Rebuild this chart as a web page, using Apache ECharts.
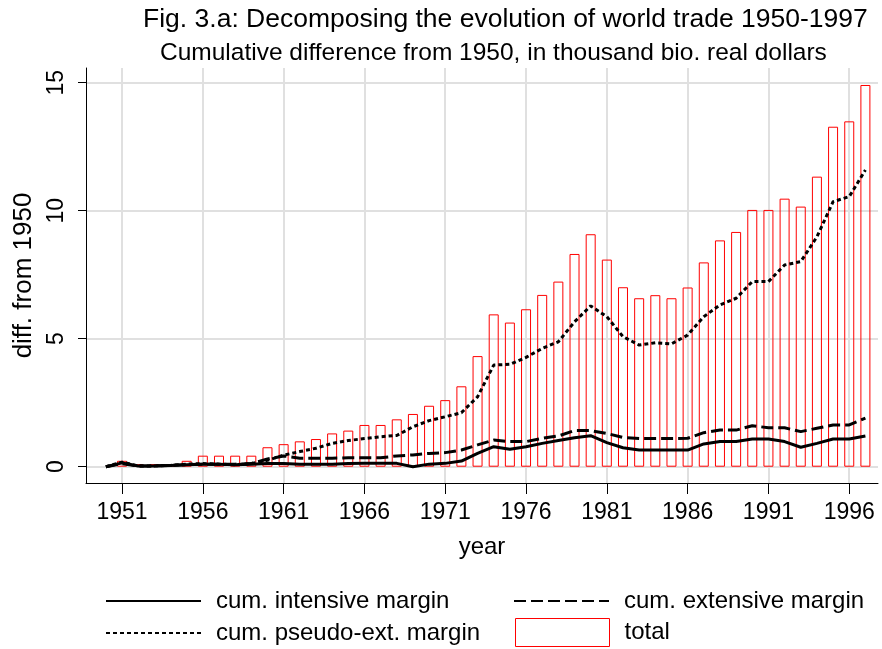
<!DOCTYPE html>
<html><head><meta charset="utf-8">
<script src="https://cdn.jsdelivr.net/npm/echarts@6/dist/echarts.min.js"></script>
<style>html,body{margin:0;padding:0;background:#fff}#c{width:882px;height:649px}</style>
</head><body><div id="c"></div>
<script>
const years = [1950,1951,1952,1953,1954,1955,1956,1957,1958,1959,1960,1961,1962,1963,1964,1965,1966,1967,1968,1969,1970,1971,1972,1973,1974,1975,1976,1977,1978,1979,1980,1981,1982,1983,1984,1985,1986,1987,1988,1989,1990,1991,1992,1993,1994,1995,1996,1997];
const intensive = [0,0.15,0.03,0.03,0.05,0.08,0.10,0.10,0.08,0.10,0.12,0.12,0.10,0.10,0.10,0.12,0.13,0.13,0.13,0.00,0.10,0.13,0.22,0.52,0.78,0.68,0.78,0.91,1.02,1.13,1.21,0.94,0.74,0.65,0.65,0.65,0.65,0.89,0.98,0.98,1.08,1.08,0.98,0.76,0.91,1.08,1.08,1.20];
const extensive = [0,0.12,0.03,0.03,0.05,0.08,0.10,0.10,0.10,0.12,0.30,0.42,0.33,0.33,0.33,0.35,0.35,0.35,0.42,0.46,0.52,0.55,0.65,0.85,1.04,0.98,0.98,1.11,1.20,1.41,1.41,1.30,1.14,1.10,1.10,1.10,1.11,1.33,1.43,1.43,1.60,1.52,1.52,1.37,1.50,1.63,1.63,1.90];
const pseudo = [0,0.18,0.03,0.03,0.05,0.10,0.12,0.10,0.08,0.12,0.25,0.45,0.59,0.72,0.91,1.02,1.10,1.17,1.22,1.56,1.80,1.95,2.11,2.73,3.97,4.00,4.27,4.62,4.88,5.66,6.28,5.86,5.08,4.75,4.84,4.80,5.14,5.86,6.32,6.58,7.23,7.23,7.88,8.01,8.98,10.35,10.55,11.59];
const totalYears = [1951,1952,1953,1954,1955,1956,1957,1958,1959,1960,1961,1962,1963,1964,1965,1966,1967,1968,1969,1970,1971,1972,1973,1974,1975,1976,1977,1978,1979,1980,1981,1982,1983,1984,1985,1986,1987,1988,1989,1990,1991,1992,1993,1994,1995,1996,1997];
const total = [0.23,0.10,0.10,0.10,0.23,0.43,0.43,0.43,0.43,0.76,0.88,0.99,1.08,1.30,1.41,1.63,1.63,1.85,2.06,2.38,2.60,3.14,4.32,5.95,5.63,6.15,6.71,7.23,8.31,9.08,8.09,7.01,6.58,6.70,6.58,7.00,7.98,8.84,9.17,10.03,10.03,10.47,10.16,11.33,13.28,13.49,14.91];
const xTicks = [1951,1956,1961,1966,1971,1976,1981,1986,1991,1996];
const yTicks = [0,5,10,15];
const seriesNames = ['cum. intensive margin','cum. extensive margin','cum. pseudo-ext. margin','total'];

const FONT = '"Liberation Sans",Arial,sans-serif';
const pair = (xs, vs) => xs.map((x, i) => [x, vs[i]]);
const chart = echarts.init(document.getElementById('c'), null, {renderer: 'canvas'});
const legendText = {fontSize: 24, color: '#000', fontFamily: FONT, padding: [0,0,0,10]};
const hideSym = {opacity: 0};
chart.setOption({
  animation: false,
  backgroundColor: '#fff',
  title: [
    {text: 'Fig. 3.a: Decomposing the evolution of world trade 1950-1997', left: 138, top: 1,
     textStyle: {fontSize: 26.5, fontWeight: 'normal', color: '#000', fontFamily: FONT}},
    {text: 'Cumulative difference from 1950, in thousand bio. real dollars', left: 155, top: 36,
     textStyle: {fontSize: 24.5, fontWeight: 'normal', color: '#000', fontFamily: FONT}}
  ],
  grid: {left: 86, right: 4, top: 68, bottom: 166},
  xAxis: {
    type: 'value', min: 1948.77, max: 1997.78,
    name: 'year', nameLocation: 'middle', nameGap: 52,
    nameTextStyle: {fontSize: 24, color: '#000', fontFamily: FONT},
    axisLine: {show: true, onZero: false, lineStyle: {color: '#000', width: 1}},
    axisTick: {show: true, customValues: xTicks, length: 11, lineStyle: {color: '#000'}},
    axisLabel: {customValues: xTicks, fontSize: 23, color: '#000', margin: 18, fontFamily: FONT,
                formatter: v => String(v)},
    splitLine: {show: true, lineStyle: {color: '#e0e0e0', width: 2}}
  },
  yAxis: {
    type: 'value', min: -0.637, max: 15.574,
    name: 'diff. from 1950', nameLocation: 'middle', nameRotate: 90, nameGap: 42,
    nameTextStyle: {fontSize: 26, color: '#000', fontFamily: FONT},
    axisLine: {show: true, onZero: false, lineStyle: {color: '#000', width: 1}},
    axisTick: {show: true, customValues: yTicks, length: 8, lineStyle: {color: '#000'}},
    axisLabel: {customValues: yTicks, rotate: 90, fontSize: 23, color: '#000', margin: 18, fontFamily: FONT,
                formatter: v => String(v)},
    splitLine: {show: true, lineStyle: {color: '#e0e0e0', width: 2}}
  },
  legend: [
    {left: 105, top: 589, padding: 0, itemWidth: 95, itemHeight: 14, data: [seriesNames[0]], itemStyle: hideSym, textStyle: legendText, selectedMode: false},
    {left: 513, top: 589, padding: 0, itemWidth: 95, itemHeight: 14, data: [seriesNames[1]], itemStyle: hideSym, textStyle: legendText, selectedMode: false},
    {left: 105, top: 621, padding: 0, itemWidth: 95, itemHeight: 14, data: [seriesNames[2]], itemStyle: hideSym, textStyle: legendText, selectedMode: false},
    {left: 515, top: 618, padding: 0, itemWidth: 94, itemHeight: 28, data: [{name: seriesNames[3], icon: 'rect'}],
     itemStyle: {color: '#fff', borderColor: '#ff0000', borderWidth: 1}, textStyle: legendText, selectedMode: false}
  ],
  series: [
    {name: seriesNames[3], type: 'bar', data: pair(totalYears, total), barWidth: 10, z: 1,
     itemStyle: {color: 'rgba(255,255,255,0)', borderColor: '#ff0000', borderWidth: 1}},
    {name: seriesNames[0], type: 'line', data: pair(years, intensive), symbol: 'none', z: 3,
     lineStyle: {color: '#000', width: 3, type: 'solid'}},
    {name: seriesNames[1], type: 'line', data: pair(years, extensive), symbol: 'none', z: 3,
     lineStyle: {color: '#000', width: 3, type: [12, 5]}},
    {name: seriesNames[2], type: 'line', data: pair(years, pseudo), symbol: 'none', z: 3,
     lineStyle: {color: '#000', width: 3, type: [4, 3]}}
  ]
});
</script>
</body></html>
